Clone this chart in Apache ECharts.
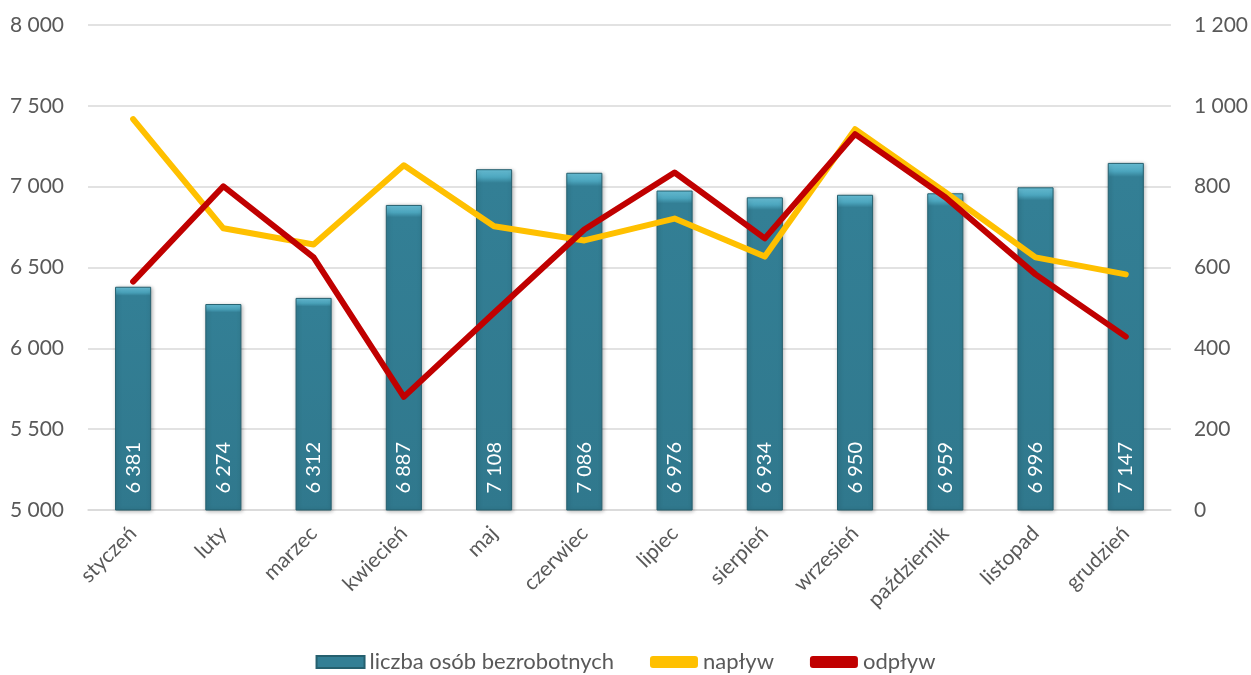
<!DOCTYPE html>
<html><head><meta charset="utf-8">
<script src="https://cdn.jsdelivr.net/npm/echarts@6/dist/echarts.min.js"></script>
<style>html,body{margin:0;padding:0;background:#fff}#c{width:1251px;height:675px}</style>
</head><body><div id="c"></div>
<script>
const months = ['styczeń','luty','marzec','kwiecień','maj','czerwiec','lipiec','sierpień','wrzesień','październik','listopad','grudzień'];
const bezrobotni = [6381,6274,6312,6887,7108,7086,6976,6934,6950,6959,6996,7147];
const naplyw = [967,697,657,853,702,667,721,627,942,786,625,583];
const odplyw = [565,801,625,280,488,694,835,672,930,774,583,429];
const leftTicks = {min:5000,max:8000,interval:500};
const rightTicks = {min:0,max:1200,interval:200};

const fmt = v => String(v).replace(/\B(?=(\d{3})+(?!\d))/g, ' ');
const FONT = 'Lato';
const chart = echarts.init(document.getElementById('c'));
chart.setOption({
  animation:false,
  textStyle:{fontFamily:FONT},
  grid:{left:88,right:80,top:25,bottom:165},
  legend:{
    bottom:-3, left:'center', itemWidth:48, itemHeight:12, itemGap:36,
    textStyle:{fontSize:22,color:'#595959',fontFamily:FONT},
    data:[
      {name:'liczba osób bezrobotnych', icon:'rect', itemStyle:{color:'#337f95'}},
      {name:'napływ', icon:'roundRect', itemStyle:{color:'#FFC000'}},
      {name:'odpływ', icon:'roundRect', itemStyle:{color:'#C00000'}}
    ]
  },
  xAxis:{
    type:'category', data:months,
    axisLine:{lineStyle:{color:'#d9d9d9',width:1.5}},
    axisTick:{show:false},
    axisLabel:{rotate:45,fontSize:21,color:'#595959',margin:20,interval:0,fontFamily:FONT}
  },
  yAxis:[
    {type:'value',min:leftTicks.min,max:leftTicks.max,interval:leftTicks.interval,
     axisLabel:{fontSize:21,color:'#595959',margin:24,formatter:fmt,fontFamily:FONT},
     splitLine:{lineStyle:{color:'#d9d9d9',width:1.5}},axisLine:{show:false},axisTick:{show:false}},
    {type:'value',min:rightTicks.min,max:rightTicks.max,interval:rightTicks.interval,
     axisLabel:{fontSize:21,color:'#595959',margin:23,formatter:fmt,fontFamily:FONT},
     splitLine:{show:false},axisLine:{show:false},axisTick:{show:false}}
  ],
  series:[
    {name:'liczba osób bezrobotnych',type:'bar',data:bezrobotni,barWidth:'40%',yAxisIndex:0,
     itemStyle:{
       color:new echarts.graphic.LinearGradient(0,0,0,1,[
         {offset:0,color:'#6cc6de'},{offset:0.025,color:'#4aa3bb'},{offset:0.04,color:'#337f95'},{offset:1,color:'#30788d'}]),
       borderColor:'#25606f',borderWidth:1,
       shadowColor:'rgba(0,0,0,0.3)',shadowBlur:4,shadowOffsetX:1,shadowOffsetY:1
     },
     label:{show:true,position:'insideBottom',rotate:90,align:'left',verticalAlign:'middle',distance:17,
       color:'#ffffff',fontSize:20,fontFamily:FONT,formatter:p=>fmt(p.value)}},
    {name:'napływ',type:'line',yAxisIndex:1,data:naplyw,symbol:'none',
     lineStyle:{color:'#FFC000',width:6,cap:'round',join:'round'},itemStyle:{color:'#FFC000'}},
    {name:'odpływ',type:'line',yAxisIndex:1,data:odplyw,symbol:'none',
     lineStyle:{color:'#C00000',width:6,cap:'round',join:'round'},itemStyle:{color:'#C00000'}}
  ]
});
</script></body></html>
